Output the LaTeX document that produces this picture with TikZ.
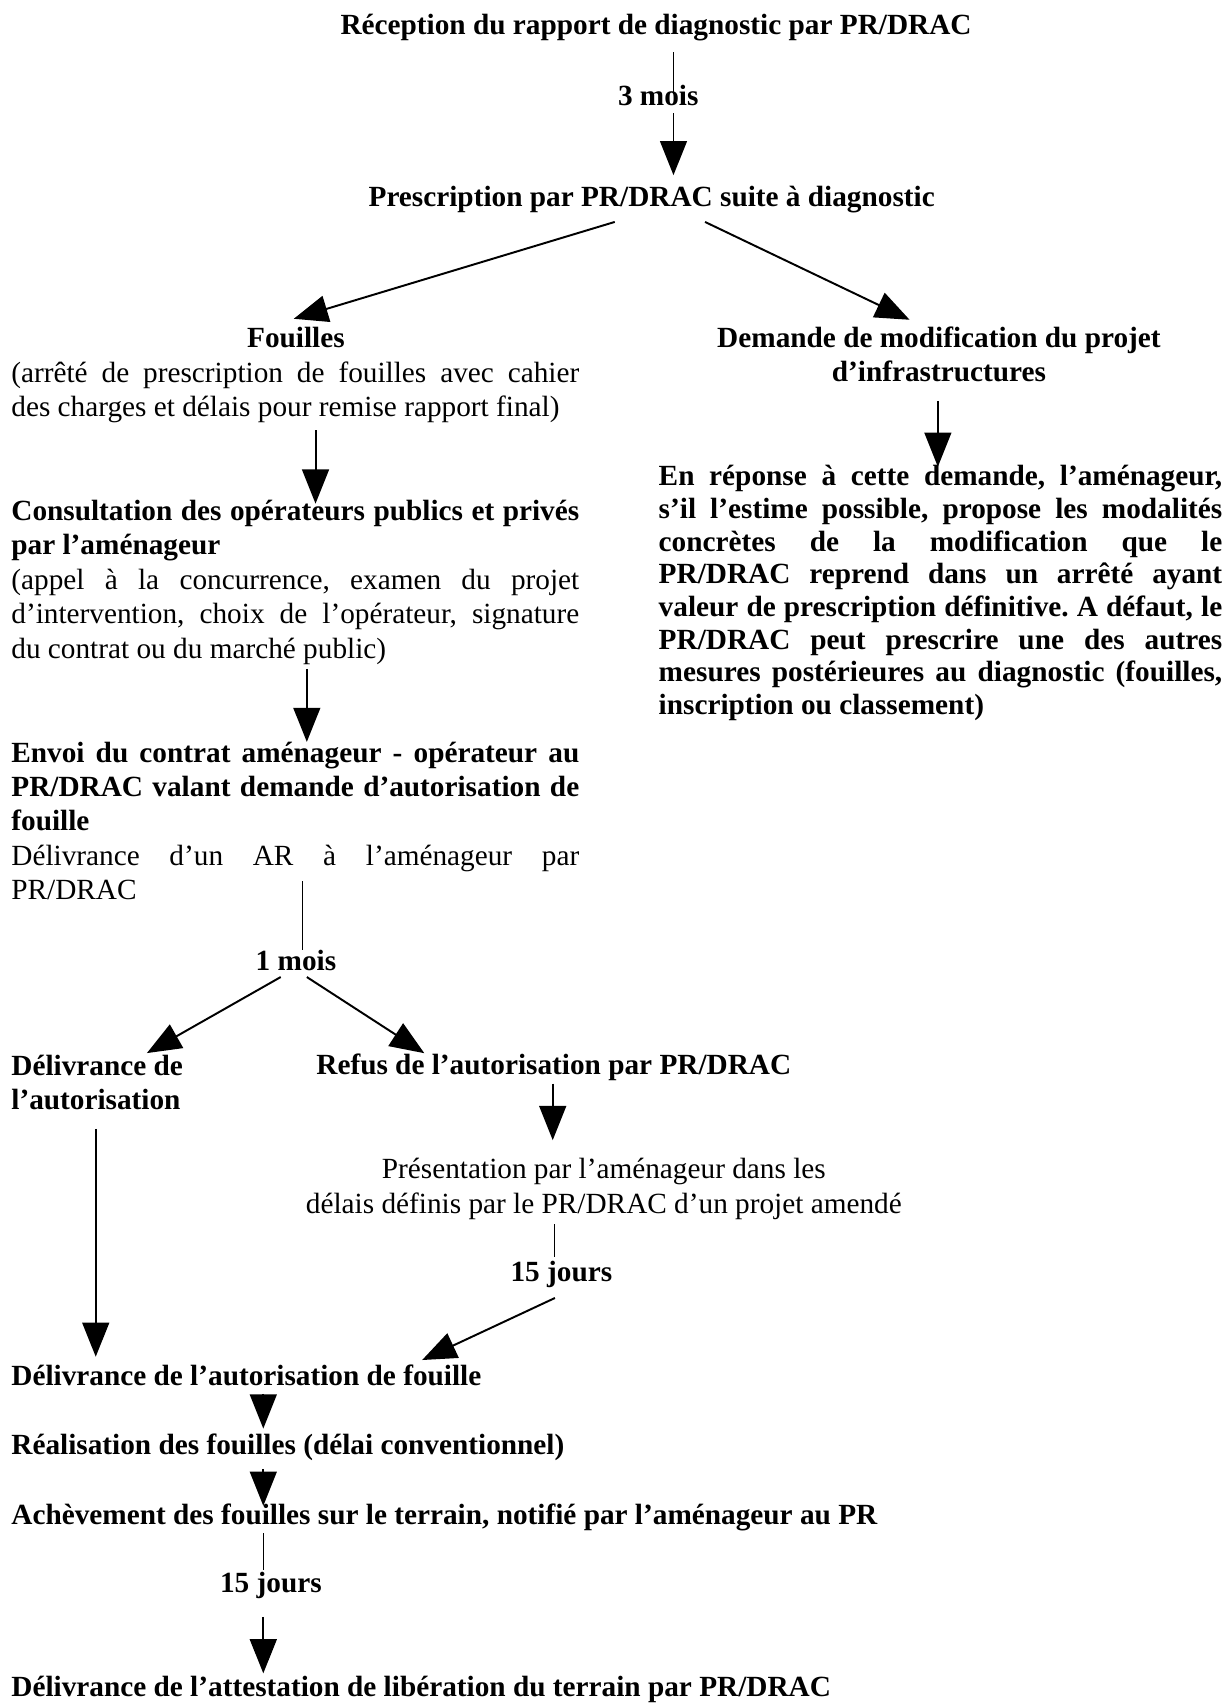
\documentclass[tikz,border=0pt]{standalone}
\usepackage{fontspec}
\setmainfont{Liberation Serif}
\usetikzlibrary{arrows.meta,calc}
\tolerance=10000
\hyphenpenalty=10000
\frenchspacing
\parindent=0pt

\begin{document}
\begin{tikzpicture}[x=0.446pt,y=-0.446pt,
  every node/.style={inner sep=0pt,font=\fontsize{12}{14.1}\selectfont},
  titre/.style={font=\fontsize{12}{14.1}\selectfont\bfseries},
  bloc/.style={anchor=north west,text width=232.8pt,align=justify},
  arr/.style={line width=0.8pt,-{Triangle[length=14pt,width=11pt]}},
  trait/.style={line width=0.45pt}]
\useasboundingbox (0,0) rectangle (1127,1568);

% haut du schema
\node[titre,anchor=base] (recep) at (603,32) {Réception du rapport de diagnostic par PR/DRAC};
\node[titre,anchor=base] (m3) at (605,97) {3 mois};
\node[titre,anchor=base] (presc) at (599,190) {Prescription par PR/DRAC suite à diagnostic};

% branche fouilles
\node[titre,anchor=base] (fouilles) at (272,319) {Fouilles};
\node[bloc] (arrete) at (10,328.9) {\strut(arrêté de prescription de fouilles avec cahier\linebreak des charges et délais pour remise rapport final)\strut};
\node[bloc] (consult) at (10,455.9) {\strut\textbf{Consultation des opérateurs publics et privés\linebreak par l’aménageur}\\(appel à la concurrence, examen du projet\linebreak d’intervention, choix de l’opérateur, signature\linebreak du contrat ou du marché public)\strut};
\node[bloc] (envoi) at (10,677.9) {\strut\textbf{Envoi du contrat aménageur - opérateur au\linebreak PR/DRAC valant demande d’autorisation de\linebreak fouille}\\Délivrance d’un AR à l’aménageur par\linebreak PR/DRAC\strut};

% branche modification
\node[titre,anchor=north,align=center] (demande) at (863,296.9) {\strut Demande de modification du projet\\d’infrastructures\strut};
\node[bloc,text width=231pt,font=\fontsize{12}{13.4}\selectfont\bfseries] (reponse) at (605,425) {\strut En réponse à cette demande, l’aménageur,\linebreak s’il l’estime possible, propose les modalités\linebreak concrètes de la modification que le\linebreak PR/DRAC reprend dans un arrêté ayant\linebreak valeur de prescription définitive. A défaut, le\linebreak PR/DRAC peut prescrire une des autres\linebreak mesures postérieures au diagnostic (fouilles,\linebreak inscription ou classement)\strut};

% autorisation
\node[titre,anchor=base] (m1) at (272,892) {1 mois};
\node[titre,anchor=north west,align=left] (autor) at (10,965.9) {\strut Délivrance de\\l’autorisation\strut};
\node[titre,anchor=base] (refus) at (509,988) {Refus de l’autorisation par PR/DRAC};
\node[anchor=north,align=center] (present) at (555,1060.9) {\strut Présentation par l’aménageur dans les\\délais définis par le PR/DRAC d’un projet amendé\strut};
\node[titre,anchor=base] (j15a) at (516,1178) {15 jours};

% bas du schema
\node[titre,anchor=base west] (fouille) at (10,1273) {Délivrance de l’autorisation de fouille};
\node[titre,anchor=base west] (realis) at (10,1337) {Réalisation des fouilles (délai conventionnel)};
\node[titre,anchor=base west] (achev) at (10,1401) {Achèvement des fouilles sur le terrain, notifié par l’aménageur au PR};
\node[titre,anchor=base] (j15b) at (249,1464) {15 jours};
\node[titre,anchor=base west] (attest) at (10,1559) {Délivrance de l’attestation de libération du terrain par PR/DRAC};

% fleches
\draw[trait] ($(recep.base)+(16,16)$) -- ($(m3.base)+(14,-11)$);
\draw[arr] ($(m3.base)+(14,7)$) -- ($(presc.base)+(20,-29)$);
\draw[arr] ($(presc.base)+(-34,14)$) -- ($(fouilles.base)+(-2,-26)$);
\draw[arr] ($(presc.base)+(49,14)$) -- ($(demande.north)+(-27,-3)$);
\draw[arr] ($(demande.south)+(-1,7.5)$) -- ($(reponse.north west)+(257,4)$);
\draw[arr] ($(arrete.south west)+(280,2.5)$) -- ($(consult.north west)+(280,7)$);
\draw[arr] ($(consult.south west)+(272,0)$) -- ($(envoi.north west)+(272,4)$);
\draw[trait] ($(envoi.north west)+(268,132)$) -- ($(m1.base)+(6,-19)$);
\draw[arr] ($(m1.base)+(-14,6)$) -- ($(autor.north west)+(125,2)$);
\draw[arr] ($(m1.base)+(10,6)$) -- ($(refus.base)+(-119,-20)$);
\draw[arr] ($(refus.base)+(-1,8)$) -- ($(present.north)+(-47,-13)$);
\draw[trait] ($(present.south)+(-45,0)$) -- ($(j15a.base)+(-6,-23)$);
\draw[arr] ($(j15a.base)+(-6,15)$) -- ($(fouille.base west)+(378,-23)$);
\draw[arr] ($(autor.south west)+(78,7.5)$) -- ($(fouille.base west)+(78,-26)$);
\draw[arr] ($(fouille.base west)+(232,8)$) -- ($(realis.base west)+(232,-24)$);
\draw[arr] ($(realis.base west)+(232,13)$) -- ($(achev.base west)+(232,-17)$);
\draw[trait] ($(achev.base west)+(232,8)$) -- ($(j15b.base)+(-7,-21)$);
\draw[arr] ($(j15b.base)+(-7,22)$) -- ($(attest.base west)+(232,-21)$);
\end{tikzpicture}
\end{document}
